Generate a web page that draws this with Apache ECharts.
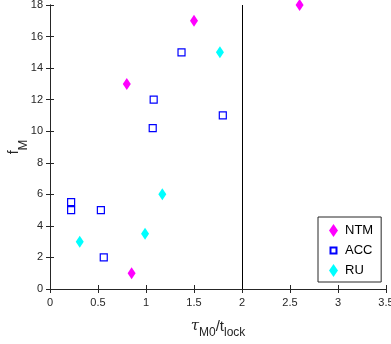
<!DOCTYPE html>
<html><head><meta charset="utf-8">
<script src="https://cdn.jsdelivr.net/npm/echarts@6/dist/echarts.min.js"></script>
<style>html,body{margin:0;padding:0;background:#fff}#c{width:391px;height:344px}</style>
</head><body><div id="c"></div>
<script>
const seriesNames = ['NTM', 'ACC', 'RU'];
const ntmData = [[0.80, 13], [1.50, 17], [2.60, 18], [0.85, 1]];
const accData = [[1.37, 15], [1.08, 12], [1.07, 10.2], [1.80, 11], [0.22, 5.5], [0.22, 5], [0.53, 5], [0.56, 2]];
const ruData = [[1.77, 15], [0.31, 3], [0.99, 3.5], [1.17, 6]];
const xTicks = [0, 0.5, 1, 1.5, 2, 2.5, 3, 3.5];
const yTicks = [0, 2, 4, 6, 8, 10, 12, 14, 16, 18];
const vLineX = 2;

const axisColor = '#262626';
const font = 'Liberation Sans, Arial, sans-serif';
const chart = echarts.init(document.getElementById('c'));
const tickLbl = {color: axisColor, fontSize: 11, fontFamily: font};
chart.setOption({
  animation: false,
  grid: {left: 50, top: 5, right: 5, bottom: 55, show: false, containLabel: false, outerBoundsMode: 'none'},
  xAxis: [{
    type: 'value', min: xTicks[0], max: xTicks[xTicks.length - 1], interval: 0.5,
    axisLine: {show: true, lineStyle: {color: axisColor, width: 1}},
    axisTick: {show: true, inside: true, length: 4, lineStyle: {color: axisColor}},
    axisLabel: Object.assign({margin: 8, formatter: v => String(v)}, tickLbl),
    splitLine: {show: false},
    name: '{t|τ}{s|M0}{n|/t}{s|lock}', nameLocation: 'middle', nameGap: 30, nameMoveOverlap: false,
    nameTextStyle: {rich: {
      t: {fontSize: 15, color: axisColor, fontFamily: 'DejaVu Serif', fontStyle: 'italic', verticalAlign: 'bottom'},
      n: {fontSize: 15, color: axisColor, fontFamily: font, verticalAlign: 'bottom'},
      s: {fontSize: 12, color: axisColor, fontFamily: font, verticalAlign: 'bottom', padding: [0, 0, -5, 0]}
    }}
  }, {
    type: 'value', min: xTicks[0], max: xTicks[xTicks.length - 1], interval: 0.5, position: 'top',
    axisLine: {show: true, lineStyle: {color: axisColor, width: 1}},
    axisTick: {show: true, inside: true, length: 4, lineStyle: {color: axisColor}},
    axisLabel: {show: false}, splitLine: {show: false}
  }],
  yAxis: [{
    type: 'value', min: yTicks[0], max: yTicks[yTicks.length - 1], interval: 2,
    axisLine: {show: true, lineStyle: {color: axisColor, width: 1}},
    axisTick: {show: true, inside: true, length: 4, lineStyle: {color: axisColor}},
    axisLabel: Object.assign({margin: 7}, tickLbl),
    splitLine: {show: false},
    name: '{n|f}{s|M}', nameLocation: 'middle', nameGap: 29, nameRotate: 90, nameMoveOverlap: false,
    nameTextStyle: {rich: {
      n: {fontSize: 14, color: axisColor, fontFamily: font, verticalAlign: 'bottom'},
      s: {fontSize: 13, color: axisColor, fontFamily: font, verticalAlign: 'bottom', padding: [0, 0, -9, 0]}
    }}
  }, {
    type: 'value', min: yTicks[0], max: yTicks[yTicks.length - 1], interval: 2, position: 'right',
    axisLine: {show: true, lineStyle: {color: axisColor, width: 1}},
    axisTick: {show: true, inside: true, length: 4, lineStyle: {color: axisColor}},
    axisLabel: {show: false}, splitLine: {show: false}
  }],
  legend: {
    orient: 'vertical', left: 318, top: 217, width: 59,
    padding: [7, 8, 5, 10], itemGap: 6, itemWidth: 9, itemHeight: 13,
    backgroundColor: '#fff', borderColor: axisColor, borderWidth: 1, borderRadius: 0,
    textStyle: {color: '#000', fontSize: 13, fontFamily: font, padding: [0, 0, 0, 2]},
    data: [
      {name: seriesNames[0]},
      {name: seriesNames[1], icon: 'path://M0,0M9,13M1.5,3.5H7.5V9.5H1.5Z'},
      {name: seriesNames[2]}
    ]
  },
  series: [{
    name: seriesNames[0], type: 'scatter', data: ntmData,
    symbol: 'diamond', symbolSize: [8, 12],
    itemStyle: {color: '#ff00ff', opacity: 1},
    markLine: {
      silent: true, symbol: 'none', label: {show: false},
      lineStyle: {color: '#000', width: 1, type: 'solid'},
      data: [{xAxis: vLineX}]
    }
  }, {
    name: seriesNames[1], type: 'scatter', data: accData,
    symbol: 'rect', symbolSize: 7,
    itemStyle: {color: '#fff', borderColor: '#0000ff', borderWidth: 1.2, opacity: 1}
  }, {
    name: seriesNames[2], type: 'scatter', data: ruData,
    symbol: 'diamond', symbolSize: [8, 12],
    itemStyle: {color: '#00ffff', opacity: 1}
  }]
});
</script></body></html>
